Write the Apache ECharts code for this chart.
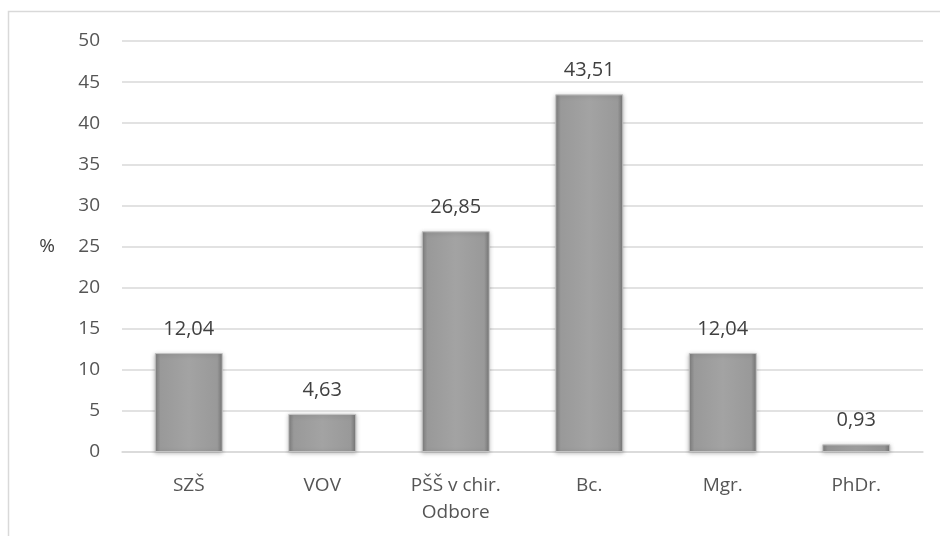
<!DOCTYPE html>
<html>
<head>
<meta charset="utf-8">
<script src="https://cdn.jsdelivr.net/npm/echarts@6/dist/echarts.min.js"></script>
<style>
  html, body { margin: 0; padding: 0; background: #fff; }
  #chart { width: 940px; height: 536px; }
</style>
</head>
<body>
<div id="chart"></div>
<script>
// Education levels and their share in percent
const categories = ['SZŠ', 'VOV', 'PŠŠ v chir.\nOdbore', 'Bc.', 'Mgr.', 'PhDr.'];
const values = [12.04, 4.63, 26.85, 43.51, 12.04, 0.93];
const yTicks = { min: 0, max: 50, interval: 5 };

const chart = echarts.init(document.getElementById('chart'));
const font = '"Open Sans", "Noto Sans", sans-serif';

// Bevelled grey bar look: darker sides, lighter middle
const barFill = new echarts.graphic.LinearGradient(0, 0, 1, 0, [
  { offset: 0, color: '#7d7d7d' },
  { offset: 0.08, color: '#999999' },
  { offset: 0.5, color: '#a3a3a3' },
  { offset: 0.92, color: '#999999' },
  { offset: 1, color: '#767676' }
]);

chart.setOption({
  animation: false,
  backgroundColor: '#ffffff',
  textStyle: { fontFamily: font },
  graphic: [{
    type: 'rect',
    shape: { x: 8.5, y: 11.5, width: 940, height: 540 },
    style: { fill: 'none', stroke: '#d9d9d9', lineWidth: 1.5 },
    silent: true
  }],
  grid: { left: 122, right: 17, top: 41, bottom: 84, containLabel: false },
  xAxis: {
    type: 'category',
    data: categories,
    axisLine: { show: true, lineStyle: { color: '#d9d9d9', width: 1.5 } },
    axisTick: { show: false },
    axisLabel: {
      color: '#555555',
      fontFamily: font,
      fontSize: 19,
      lineHeight: 27,
      margin: 20,
      interval: 0
    }
  },
  yAxis: {
    type: 'value',
    min: yTicks.min,
    max: yTicks.max,
    interval: yTicks.interval,
    name: '%',
    nameLocation: 'middle',
    nameRotate: 0,
    nameGap: 67,
    nameTextStyle: { color: '#404040', fontFamily: font, fontSize: 19 },
    axisLine: { show: false },
    axisTick: { show: false },
    splitLine: { lineStyle: { color: '#d9d9d9', width: 1.5 } },
    axisLabel: { color: '#555555', fontFamily: font, fontSize: 19, margin: 22 }
  },
  series: [{
    type: 'bar',
    data: values,
    barWidth: 68,
    itemStyle: {
      color: barFill,
      borderColor: '#c4c4c4',
      borderWidth: 1,
      shadowColor: 'rgba(0,0,0,0.25)',
      shadowBlur: 4,
      shadowOffsetY: 1
    },
    label: {
      show: true,
      position: 'top',
      distance: 14,
      color: '#404040',
      fontFamily: font,
      fontSize: 20,
      formatter: p => String(p.value).replace('.', ',')
    }
  }]
});
</script>
</body>
</html>
